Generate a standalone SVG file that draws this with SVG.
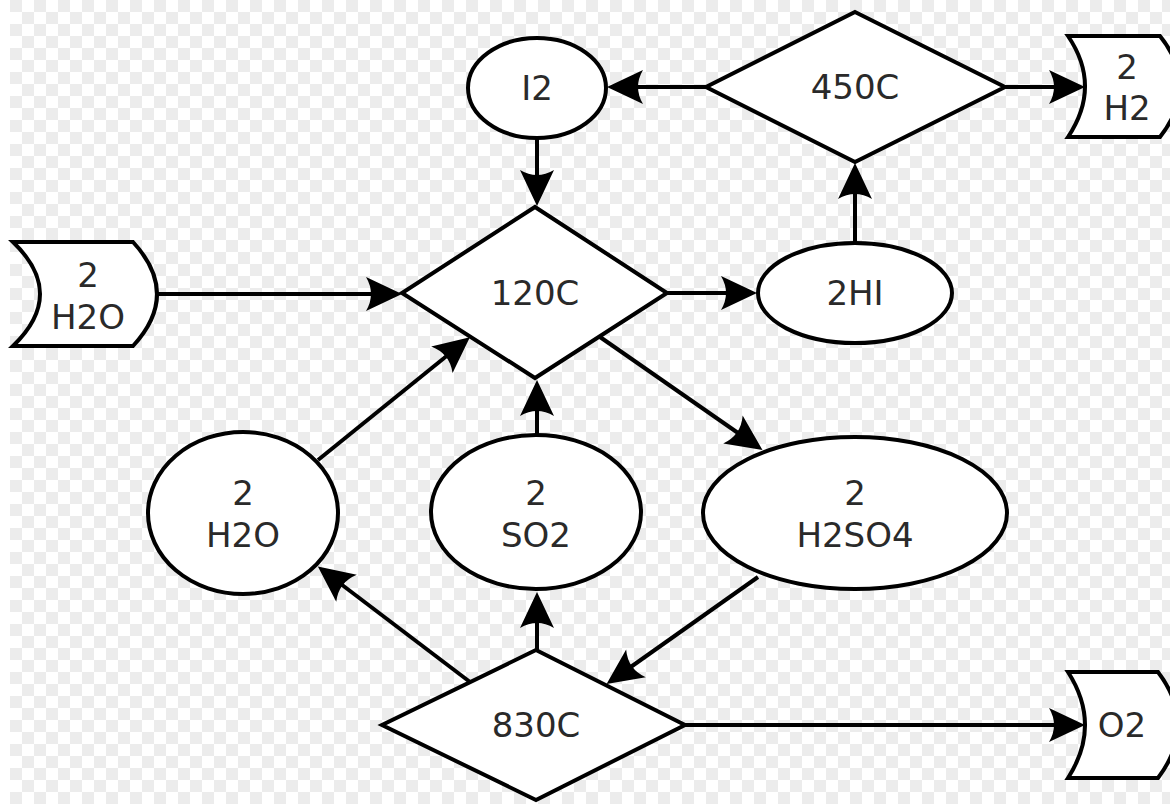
<svg xmlns="http://www.w3.org/2000/svg" width="1170" height="804" viewBox="0 0 1170 804">
<style>
.shape{fill:#fff;stroke:#000;stroke-width:4;stroke-linejoin:miter}
.edge{fill:none;stroke:#000;stroke-width:4;marker-end:url(#arr)}
text{font-family:"DejaVu Sans","Liberation Sans",sans-serif;font-size:34px;fill:#2a2a2a;text-anchor:middle}
</style>
<defs>
<pattern id="chk" x="10" y="0" width="24" height="24" patternUnits="userSpaceOnUse">
<rect width="24" height="24" fill="#fff"/>
<rect width="12" height="12" fill="#ececec"/>
<rect x="12" y="12" width="12" height="12" fill="#ececec"/>
</pattern>
<marker id="arr" markerUnits="userSpaceOnUse" markerWidth="60" markerHeight="60" refX="0" refY="0" orient="auto" overflow="visible">
<path d="M14,0 L-22,-17 Q-12,0 -22,17 Z" fill="#000"/>
</marker>
</defs>
<rect width="1170" height="804" fill="#fff"/>
<rect x="10" width="1160" height="804" fill="url(#chk)"/>

<g id="connectors">
<line class="edge" x1="706" y1="87" x2="621" y2="87"/>
<line class="edge" x1="1005" y1="87" x2="1071" y2="87"/>
<line class="edge" x1="537" y1="138" x2="537" y2="192"/>
<line class="edge" x1="157" y1="294" x2="388" y2="294"/>
<line class="edge" x1="667" y1="293" x2="743" y2="293"/>
<line class="edge" x1="855" y1="243" x2="855" y2="177"/>
<line class="edge" x1="600" y1="337" x2="751" y2="442"/>
<line class="edge" x1="537" y1="437" x2="537" y2="394"/>
<line class="edge" x1="318" y1="460" x2="459" y2="346"/>
<line class="edge" x1="537" y1="650" x2="537" y2="606"/>
<line class="edge" x1="470" y1="682" x2="329" y2="575"/>
<line class="edge" x1="758" y1="577" x2="618" y2="676"/>
<line class="edge" x1="685" y1="725" x2="1071" y2="725"/>
</g>

<g id="n450C">
<polygon class="shape" points="855,12 1005,87 855,162 706,87"/>
<text x="855" y="99">450C</text>
</g>
<g id="nI2">
<ellipse class="shape" cx="537" cy="88" rx="69" ry="50"/>
<text x="537" y="100">I2</text>
</g>
<g id="nH2">
<path class="shape" d="M1068,36 L1160,36 Q1200,86 1160,137 L1068,137 Q1102,86 1068,36 Z"/>
<text x="1127" y="79">2</text>
<text x="1127" y="120">H2</text>
</g>
<g id="nH2Oin">
<path class="shape" d="M13,242 L133,242 Q181,294 133,346 L13,346 Q67,294 13,242 Z"/>
<text x="88" y="287">2</text>
<text x="88" y="329">H2O</text>
</g>
<g id="n120C">
<polygon class="shape" points="535,207 667,293 535,378 402,293"/>
<text x="535" y="305">120C</text>
</g>
<g id="n2HI">
<ellipse class="shape" cx="855" cy="293" rx="97" ry="50"/>
<text x="855" y="305">2HI</text>
</g>
<g id="nH2O">
<ellipse class="shape" cx="243" cy="513" rx="95" ry="81"/>
<text x="243" y="505">2</text>
<text x="243" y="547">H2O</text>
</g>
<g id="nSO2">
<ellipse class="shape" cx="536" cy="512" rx="105" ry="77"/>
<text x="536" y="505">2</text>
<text x="536" y="547">SO2</text>
</g>
<g id="nH2SO4">
<ellipse class="shape" cx="855" cy="513" rx="152" ry="76"/>
<text x="855" y="505">2</text>
<text x="855" y="547">H2SO4</text>
</g>
<g id="n830C">
<polygon class="shape" points="536,650 685,725 536,800 382,725"/>
<text x="536" y="737">830C</text>
</g>
<g id="nO2">
<path class="shape" d="M1068,672 L1158,672 Q1198,725 1158,778 L1068,778 Q1102,725 1068,672 Z"/>
<text x="1122" y="737">O2</text>
</g>
</svg>
